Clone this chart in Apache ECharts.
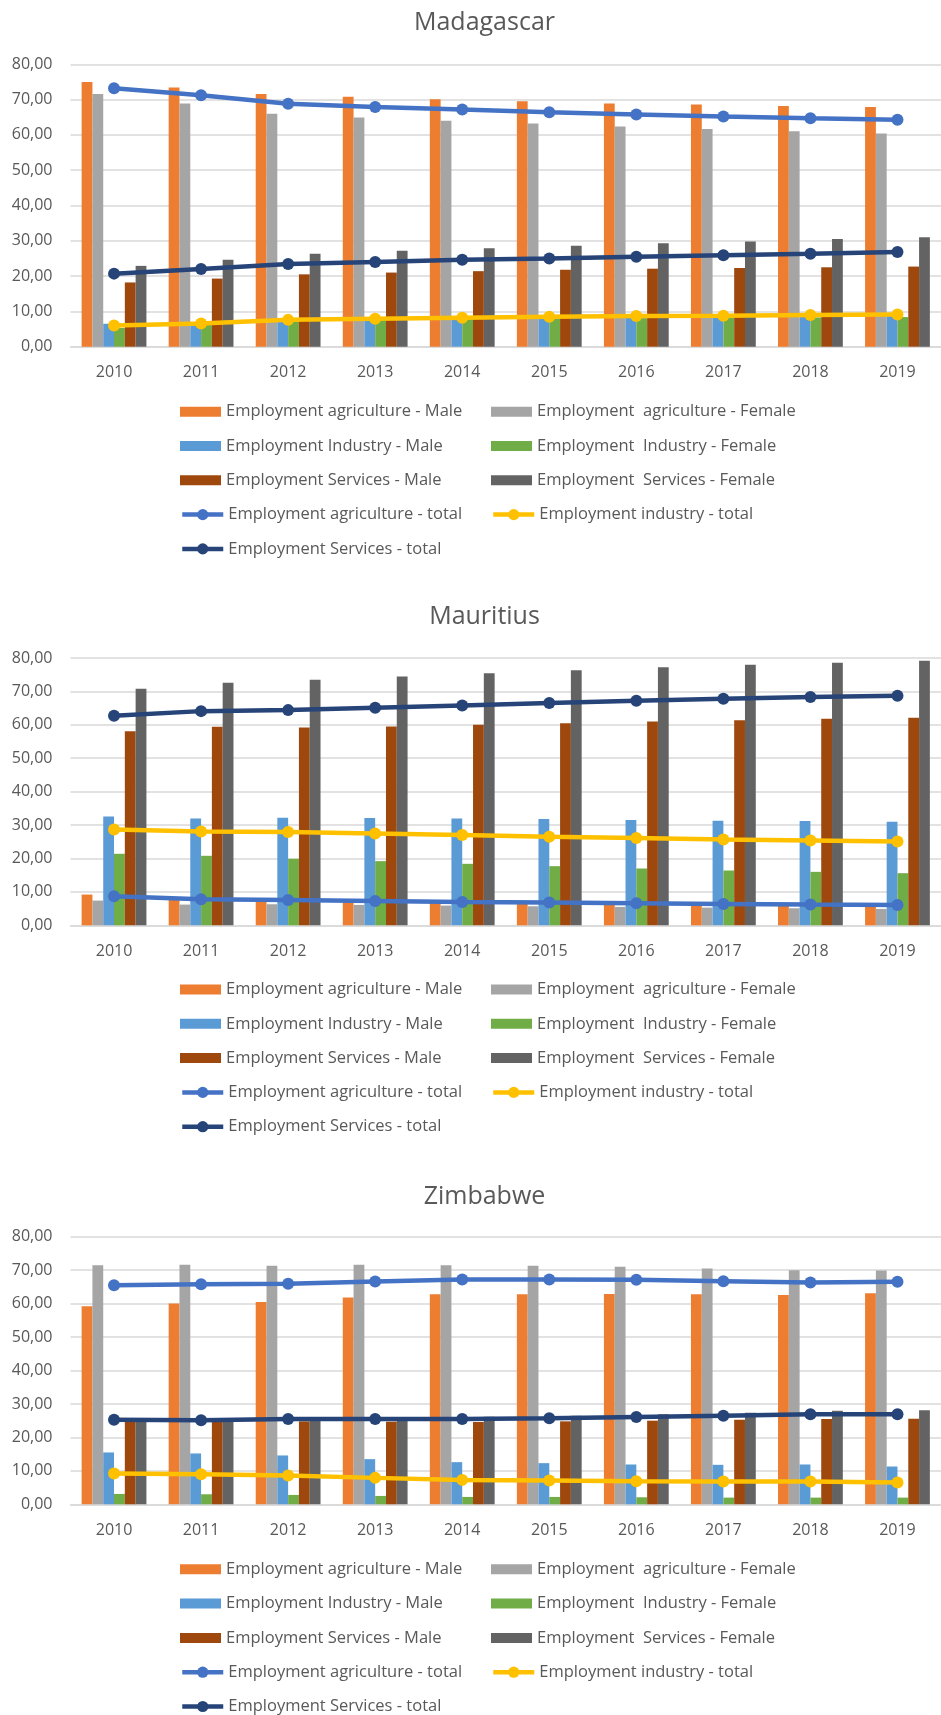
<!DOCTYPE html>
<html>
<head>
<meta charset="utf-8">
<script src="https://cdn.jsdelivr.net/npm/echarts@6/dist/echarts.min.js"></script>
<style>
  html, body { margin: 0; padding: 0; background: #ffffff; }
  #chart { width: 941px; height: 1715px; }
</style>
</head>
<body>
<div id="chart"></div>
<script>
// Employment shares (%) by sector and sex, 2010-2019
const years = ['2010', '2011', '2012', '2013', '2014', '2015', '2016', '2017', '2018', '2019'];
const yMin = 0, yMax = 80, yStep = 10;

// Madagascar
const madAgriMale    = [75.0, 73.4, 71.6, 70.8, 70.1, 69.5, 68.9, 68.6, 68.2, 67.9];
const madAgriFemale  = [71.6, 68.9, 66.0, 64.9, 64.0, 63.2, 62.4, 61.7, 61.0, 60.4];
const madIndMale     = [6.5, 7.0, 7.6, 7.9, 8.2, 8.5, 8.7, 8.9, 9.0, 9.2];
const madIndFemale   = [5.3, 6.4, 7.2, 7.6, 7.9, 8.0, 8.1, 8.2, 8.3, 8.4];
const madServMale    = [18.2, 19.3, 20.5, 21.0, 21.4, 21.8, 22.1, 22.3, 22.5, 22.7];
const madServFemale  = [22.9, 24.6, 26.3, 27.2, 27.9, 28.6, 29.3, 29.8, 30.5, 31.0];
const madAgriTotal   = [73.2, 71.2, 68.8, 67.9, 67.2, 66.4, 65.8, 65.2, 64.7, 64.3];
const madIndTotal    = [6.0, 6.6, 7.6, 7.9, 8.2, 8.5, 8.7, 8.8, 9.0, 9.1];
const madServTotal   = [20.7, 22.0, 23.4, 24.0, 24.6, 25.0, 25.5, 25.9, 26.3, 26.8];

// Mauritius
const mauAgriMale    = [9.2, 8.0, 7.8, 7.5, 7.2, 7.0, 6.7, 6.5, 6.2, 6.0];
const mauAgriFemale  = [7.4, 6.2, 6.3, 6.1, 5.9, 5.7, 5.5, 5.3, 5.1, 4.9];
const mauIndMale     = [32.6, 32.0, 32.2, 32.1, 32.0, 31.8, 31.5, 31.3, 31.2, 31.0];
const mauIndFemale   = [21.4, 20.8, 19.9, 19.2, 18.4, 17.7, 17.0, 16.4, 16.0, 15.6];
const mauServMale    = [58.1, 59.4, 59.2, 59.5, 60.0, 60.5, 61.0, 61.4, 61.8, 62.1];
const mauServFemale  = [70.8, 72.6, 73.5, 74.5, 75.4, 76.3, 77.2, 78.0, 78.6, 79.2];
const mauAgriTotal   = [8.7, 7.8, 7.6, 7.3, 7.0, 6.8, 6.6, 6.4, 6.2, 6.1];
const mauIndTotal    = [28.7, 28.1, 27.9, 27.5, 27.0, 26.5, 26.1, 25.7, 25.4, 25.1];
const mauServTotal   = [62.7, 64.1, 64.4, 65.1, 65.8, 66.5, 67.2, 67.8, 68.3, 68.7];

// Zimbabwe
const zimAgriMale    = [59.2, 60.0, 60.5, 61.8, 62.8, 62.8, 62.9, 62.8, 62.6, 63.1];
const zimAgriFemale  = [71.5, 71.6, 71.3, 71.6, 71.5, 71.3, 71.0, 70.5, 70.0, 69.9];
const zimIndMale     = [15.5, 15.2, 14.6, 13.5, 12.6, 12.3, 11.9, 11.8, 11.9, 11.3];
const zimIndFemale   = [3.1, 3.0, 2.8, 2.5, 2.2, 2.2, 2.1, 2.0, 2.0, 2.0];
const zimServMale    = [24.9, 24.7, 24.8, 24.7, 24.6, 24.8, 25.0, 25.3, 25.5, 25.6];
const zimServFemale  = [25.4, 25.4, 25.8, 25.9, 26.2, 26.5, 26.9, 27.4, 28.0, 28.1];
const zimAgriTotal   = [65.5, 65.8, 65.9, 66.6, 67.2, 67.2, 67.1, 66.7, 66.3, 66.5];
const zimIndTotal    = [9.2, 9.0, 8.6, 7.9, 7.3, 7.1, 6.9, 6.8, 6.8, 6.5];
const zimServTotal   = [25.3, 25.1, 25.5, 25.5, 25.5, 25.7, 26.1, 26.5, 26.9, 26.9];

const seriesNames = [
  'Employment agriculture - Male',
  'Employment  agriculture - Female',
  'Employment Industry - Male',
  'Employment  Industry - Female',
  'Employment Services - Male',
  'Employment  Services - Female',
  'Employment agriculture - total',
  'Employment industry - total',
  'Employment Services - total'
];
const seriesColors = ['#ED7D31', '#A5A5A5', '#5B9BD5', '#70AD47', '#9E480E', '#636363', '#4472C4', '#FFC000', '#264478'];

const panels = [
  { title: 'Madagascar', titleY: 23, gridTop: 64.3, gridHeight: 282.4, legendY: 411.7,
    data: [madAgriMale, madAgriFemale, madIndMale, madIndFemale, madServMale, madServFemale, madAgriTotal, madIndTotal, madServTotal] },
  { title: 'Mauritius', titleY: 617, gridTop: 658, gridHeight: 267.3, legendY: 989.5,
    data: [mauAgriMale, mauAgriFemale, mauIndMale, mauIndFemale, mauServMale, mauServFemale, mauAgriTotal, mauIndTotal, mauServTotal] },
  { title: 'Zimbabwe', titleY: 1197, gridTop: 1236.7, gridHeight: 267.6, legendY: 1569.3,
    data: [zimAgriMale, zimAgriFemale, zimIndMale, zimIndFemale, zimServMale, zimServFemale, zimAgriTotal, zimIndTotal, zimServTotal] }
];

const FONT = 'Open Sans';
const TEXT = '#595959';
const GRIDLINE = '#D9D9D9';
const ROW = 34.3;
const LEGEND_LH = 20;

const option = {
  backgroundColor: '#ffffff',
  animation: false,
  title: [], grid: [], xAxis: [], yAxis: [], legend: [], series: []
};

// one legend column block; rowCenter is the vertical middle of its first row
function legendBlock(names, left, rowCenter, isLine) {
  return {
    orient: 'vertical',
    left: left,
    top: rowCenter - LEGEND_LH / 2,
    padding: 0,
    itemWidth: 41,
    itemHeight: isLine ? 14 : 10,
    itemGap: ROW - LEGEND_LH,
    selectedMode: false,
    lineStyle: { width: 4.5 },
    textStyle: { color: TEXT, fontFamily: FONT, fontSize: 16.5, lineHeight: LEGEND_LH },
    data: names.map(n => isLine ? { name: n } : { name: n, icon: 'rect' })
  };
}

panels.forEach((p, i) => {
  option.title.push({
    text: p.title,
    left: 484.5,
    textAlign: 'center',
    top: p.titleY - 13,
    padding: 0,
    textStyle: { color: TEXT, fontFamily: FONT, fontSize: 25, fontWeight: 'normal' }
  });
  option.grid.push({ left: 70.5, top: p.gridTop, width: 879, height: p.gridHeight, containLabel: false });
  option.xAxis.push({
    type: 'category', gridIndex: i, data: years,
    axisTick: { show: false },
    axisLine: { lineStyle: { color: GRIDLINE, width: 1.5 } },
    axisLabel: { color: TEXT, fontFamily: FONT, fontSize: 16, margin: 18 }
  });
  option.yAxis.push({
    type: 'value', gridIndex: i, min: yMin, max: yMax, interval: yStep,
    axisLine: { show: false }, axisTick: { show: false },
    splitLine: { lineStyle: { color: GRIDLINE, width: 1.5 } },
    axisLabel: { color: TEXT, fontFamily: FONT, fontSize: 16, margin: 18,
      formatter: v => v.toFixed(2).replace('.', ',') }
  });

  // legend: two columns; bar keys on three rows, line keys on the two rows below
  option.legend.push(legendBlock([seriesNames[0], seriesNames[2], seriesNames[4]], 180, p.legendY, false));
  option.legend.push(legendBlock([seriesNames[1], seriesNames[3], seriesNames[5]], 491, p.legendY, false));
  option.legend.push(legendBlock([seriesNames[6]], 180, p.legendY + 3 * ROW, true));
  option.legend.push(legendBlock([seriesNames[7]], 491, p.legendY + 3 * ROW, true));
  option.legend.push(legendBlock([seriesNames[8]], 180, p.legendY + 4 * ROW, true));

  p.data.forEach((values, k) => {
    if (k < 6) {
      option.series.push({
        type: 'bar', name: seriesNames[k], xAxisIndex: i, yAxisIndex: i,
        data: values, barWidth: 10.8, barGap: '0%',
        itemStyle: { color: seriesColors[k] }, z: 2
      });
    } else {
      option.series.push({
        type: 'line', name: seriesNames[k], xAxisIndex: i, yAxisIndex: i,
        data: values, symbol: 'circle', symbolSize: 12,
        lineStyle: { color: seriesColors[k], width: 4.5 },
        itemStyle: { color: seriesColors[k] }, z: 5
      });
    }
  });
});

const chart = echarts.init(document.getElementById('chart'), null, { renderer: 'canvas' });
chart.setOption(option);
</script>
</body>
</html>
